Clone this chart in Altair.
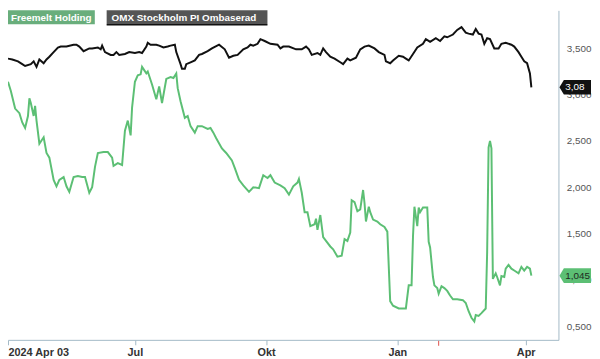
import altair as alt
import pandas as pd

# ---------------- data ----------------
omx_dates = [
    "2024-04-03", "2024-04-06", "2024-04-10", "2024-04-13", "2024-04-15", "2024-04-19", "2024-04-21",
    "2024-04-23", "2024-04-25", "2024-04-28", "2024-04-30", "2024-05-02", "2024-05-05", "2024-05-08",
    "2024-05-10", "2024-05-14", "2024-05-19", "2024-05-21", "2024-05-23", "2024-05-26", "2024-05-30",
    "2024-06-01", "2024-06-05", "2024-06-07", "2024-06-08", "2024-06-10", "2024-06-14", "2024-06-16",
    "2024-06-18", "2024-06-20", "2024-06-24", "2024-06-27", "2024-07-01", "2024-07-04", "2024-07-06",
    "2024-07-09", "2024-07-10", "2024-07-12", "2024-07-16", "2024-07-18", "2024-07-21", "2024-07-24",
    "2024-07-26", "2024-07-29", "2024-07-30", "2024-08-02", "2024-08-03", "2024-08-05", "2024-08-06",
    "2024-08-09", "2024-08-12", "2024-08-15", "2024-08-17", "2024-08-21", "2024-08-24", "2024-08-29",
    "2024-09-02", "2024-09-05", "2024-09-08", "2024-09-11", "2024-09-15", "2024-09-18", "2024-09-20",
    "2024-09-22", "2024-09-25", "2024-09-27", "2024-09-30", "2024-10-04", "2024-10-09", "2024-10-11",
    "2024-10-13", "2024-10-17", "2024-10-22", "2024-10-26", "2024-10-29", "2024-10-31", "2024-11-02",
    "2024-11-06", "2024-11-08", "2024-11-10", "2024-11-12", "2024-11-15", "2024-11-18", "2024-11-22",
    "2024-11-24", "2024-11-27", "2024-11-29", "2024-12-03", "2024-12-06", "2024-12-09", "2024-12-12",
    "2024-12-16", "2024-12-19", "2024-12-23", "2024-12-24", "2024-12-27", "2024-12-29", "2025-01-02",
    "2025-01-05", "2025-01-07", "2025-01-09", "2025-01-12", "2025-01-15", "2025-01-19", "2025-01-21",
    "2025-01-24", "2025-01-28", "2025-01-31", "2025-02-03", "2025-02-05", "2025-02-09", "2025-02-12",
    "2025-02-15", "2025-02-18", "2025-02-20", "2025-02-23", "2025-02-25", "2025-02-27", "2025-03-01",
    "2025-03-03", "2025-03-05", "2025-03-07", "2025-03-10", "2025-03-13", "2025-03-15", "2025-03-18",
    "2025-03-22", "2025-03-24", "2025-03-27", "2025-03-29", "2025-03-31", "2025-04-02", "2025-04-04",
    "2025-04-05",
]
omx_values = [
    3.39, 3.38, 3.36, 3.33, 3.31, 3.33, 3.36,
    3.30, 3.38, 3.34, 3.38, 3.41, 3.46, 3.51,
    3.52, 3.52, 3.54, 3.54, 3.52, 3.47, 3.50,
    3.50, 3.51, 3.49, 3.53, 3.46, 3.43, 3.43,
    3.46, 3.43, 3.44, 3.46, 3.45, 3.46, 3.45,
    3.52, 3.56, 3.54, 3.54, 3.53, 3.51, 3.52,
    3.53, 3.54, 3.46, 3.33, 3.28, 3.28, 3.33,
    3.35, 3.37, 3.43, 3.44, 3.47, 3.50, 3.54,
    3.49, 3.40, 3.42, 3.43, 3.49, 3.51, 3.54,
    3.53, 3.55, 3.60, 3.58, 3.55, 3.54, 3.50,
    3.52, 3.52, 3.49, 3.49, 3.52, 3.49, 3.43,
    3.45, 3.43, 3.50, 3.46, 3.41, 3.39, 3.35,
    3.33, 3.39, 3.37, 3.40, 3.49, 3.52, 3.53,
    3.50, 3.46, 3.43, 3.36, 3.34, 3.37, 3.42,
    3.41, 3.39, 3.37, 3.44, 3.51, 3.55, 3.60,
    3.57, 3.61, 3.58, 3.63, 3.62, 3.65, 3.70,
    3.73, 3.67, 3.66, 3.65, 3.71, 3.66, 3.65,
    3.55, 3.61, 3.60, 3.50, 3.50, 3.55, 3.56,
    3.54, 3.52, 3.46, 3.41, 3.36, 3.34, 3.23,
    3.08,
]

frm_dates = [
    "2024-04-03", "2024-04-05", "2024-04-08", "2024-04-11", "2024-04-13", "2024-04-15", "2024-04-17",
    "2024-04-18", "2024-04-19", "2024-04-21", "2024-04-22", "2024-04-23", "2024-04-25", "2024-04-28",
    "2024-04-30", "2024-05-02", "2024-05-05", "2024-05-07", "2024-05-09", "2024-05-12", "2024-05-14",
    "2024-05-16", "2024-05-19", "2024-05-22", "2024-05-25", "2024-05-27", "2024-05-30", "2024-06-01",
    "2024-06-03", "2024-06-05", "2024-06-09", "2024-06-12", "2024-06-15", "2024-06-16", "2024-06-19",
    "2024-06-22", "2024-06-24", "2024-06-26", "2024-06-28", "2024-06-29", "2024-07-01", "2024-07-03",
    "2024-07-05", "2024-07-06", "2024-07-09", "2024-07-10", "2024-07-13", "2024-07-16", "2024-07-18",
    "2024-07-20", "2024-07-23", "2024-07-26", "2024-07-28", "2024-07-30", "2024-07-31", "2024-08-02",
    "2024-08-05", "2024-08-07", "2024-08-09", "2024-08-12", "2024-08-14", "2024-08-17", "2024-08-21",
    "2024-08-23", "2024-08-25", "2024-08-27", "2024-08-31", "2024-09-03", "2024-09-07", "2024-09-09",
    "2024-09-12", "2024-09-15", "2024-09-19", "2024-09-22", "2024-09-26", "2024-09-29", "2024-10-02",
    "2024-10-04", "2024-10-07", "2024-10-11", "2024-10-14", "2024-10-17", "2024-10-20", "2024-10-23",
    "2024-10-24", "2024-10-26", "2024-10-28", "2024-10-30", "2024-11-01", "2024-11-04", "2024-11-05",
    "2024-11-06", "2024-11-08", "2024-11-10", "2024-11-12", "2024-11-15", "2024-11-17", "2024-11-20",
    "2024-11-23", "2024-11-25", "2024-11-27", "2024-11-29", "2024-11-30", "2024-12-02", "2024-12-04",
    "2024-12-06", "2024-12-08", "2024-12-09", "2024-12-10", "2024-12-12", "2024-12-13", "2024-12-15",
    "2024-12-18", "2024-12-20", "2024-12-23", "2024-12-25", "2024-12-27", "2024-12-29", "2025-01-02",
    "2025-01-05", "2025-01-07", "2025-01-09", "2025-01-11", "2025-01-12", "2025-01-13", "2025-01-15",
    "2025-01-16", "2025-01-17", "2025-01-19", "2025-01-22", "2025-01-23", "2025-01-24", "2025-01-26",
    "2025-01-27", "2025-01-29", "2025-01-30", "2025-02-01", "2025-02-03", "2025-02-05", "2025-02-07",
    "2025-02-09", "2025-02-12", "2025-02-16", "2025-02-18", "2025-02-20", "2025-02-22", "2025-02-24",
    "2025-02-25", "2025-02-27", "2025-03-01", "2025-03-04", "2025-03-05", "2025-03-06", "2025-03-07",
    "2025-03-08", "2025-03-09", "2025-03-11", "2025-03-12", "2025-03-14", "2025-03-15", "2025-03-17",
    "2025-03-18", "2025-03-20", "2025-03-22", "2025-03-24", "2025-03-27", "2025-03-29", "2025-03-31",
    "2025-04-02", "2025-04-04", "2025-04-05",
]
frm_values = [
    3.14, 3.04, 2.85, 2.80, 2.70, 2.64, 2.77,
    2.96, 2.91, 2.77, 2.88, 2.72, 2.47, 2.54,
    2.37, 2.32, 2.08, 2.01, 2.08, 2.11, 2.01,
    1.95, 2.11, 2.12, 2.11, 2.11, 1.94, 2.00,
    2.22, 2.37, 2.38, 2.38, 2.32, 2.23, 2.26,
    2.24, 2.61, 2.72, 2.56, 2.86, 3.14, 3.21,
    3.22, 3.30, 3.23, 3.25, 3.11, 2.95, 3.09,
    2.91, 3.17, 3.19, 3.18, 3.23, 3.07, 2.93,
    2.75, 2.77, 2.66, 2.59, 2.66, 2.66, 2.63,
    2.64, 2.59, 2.53, 2.42, 2.37, 2.29, 2.21,
    2.08, 2.02, 1.95, 2.00, 1.99, 2.13, 2.10,
    2.13, 2.05, 2.02, 1.99, 1.92, 2.01, 2.05,
    2.09, 1.94, 1.73, 1.73, 1.58, 1.60, 1.66,
    1.54, 1.70, 1.46, 1.42, 1.36, 1.33, 1.25,
    1.26, 1.44, 1.42, 1.51, 1.86, 1.84, 1.74,
    1.76, 1.97, 1.83, 1.63, 1.79, 1.73, 1.65,
    1.63, 1.60, 1.57, 1.52, 0.77, 0.72, 0.69,
    0.69, 0.69, 0.94, 0.94, 1.47, 1.79, 1.58,
    1.78, 1.73, 1.78, 1.78, 1.41, 1.35, 1.03,
    0.94, 0.91, 0.85, 0.93, 0.91, 0.88, 0.83,
    0.79, 0.79, 0.78, 0.75, 0.66, 0.59, 0.55,
    0.62, 0.61, 0.64, 0.69, 1.30, 2.43, 2.50,
    2.42, 1.01, 1.07, 1.03, 0.94, 1.04, 1.03,
    1.12, 1.16, 1.12, 1.10, 1.07, 1.14, 1.10,
    1.14, 1.12, 1.045,
]

series_names = ["Freemelt Holding", "OMX Stockholm PI Ombaserad"]
series_colors = ["#5cbf74", "#111111"]
last_labels = ["1,045", "3,08"]
badge_text_colors = ["#1e2a22", "#ffffff"]
legend_bg = ["#69ae7c", "#555555"]

y_ticks = [0.5, 1.0, 1.5, 2.0, 2.5, 3.0, 3.5]
y_domain = [0.351, 3.911]
x_domain = ["2024-04-03", "2025-04-24"]
x_tick_dates = ["2024-04-03", "2024-07-01", "2024-10-01", "2025-01-01", "2025-04-01"]
x_tick_labels = ["2024 Apr 03", "Jul", "Okt", "Jan", "Apr"]
marker_dates = ["2025-01-30"]

# ---------------- build ----------------
W, H = 558, 334
FONT = "Liberation Sans"
AXIS_COLOR = "#a3b9c6"

df = pd.concat([
    pd.DataFrame({"date": frm_dates, "value": frm_values, "series": series_names[0]}),
    pd.DataFrame({"date": omx_dates, "value": omx_values, "series": series_names[1]}),
], ignore_index=True)

last_df = pd.DataFrame({
    "date": [frm_dates[-1], omx_dates[-1]],
    "value": [frm_values[-1], omx_values[-1]],
    "series": series_names,
    "label": last_labels,
    "tcolor": badge_text_colors,
})


def dt(s):
    y, m, d = (int(p) for p in s.split("-"))
    return alt.DateTime(year=y, month=m, date=d)


label_expr = ""
for s, lab in zip(x_tick_dates, x_tick_labels):
    y, m, d = (int(p) for p in s.split("-"))
    label_expr += f"(year(datum.value)=={y} && month(datum.value)=={m-1} && date(datum.value)=={d}) ? '{lab}' : "
label_expr += "''"

x_enc = alt.X(
    "date:T",
    scale=alt.Scale(domain=[dt(x_domain[0]), dt(x_domain[1])]),
    axis=alt.Axis(
        values=[dt(s) for s in x_tick_dates],
        labelExpr=label_expr,
        title=None,
        grid=False,
        tickSize=5,
        tickColor=AXIS_COLOR,
        domainColor=AXIS_COLOR,
        labelFont=FONT,
        labelFontWeight="bold",
        labelFontSize=11,
        labelColor="#333333",
        labelFlush=6,
        labelPadding=2,
    ),
)
y_enc = alt.Y(
    "value:Q",
    scale=alt.Scale(domain=y_domain, nice=False, zero=False),
    axis=alt.Axis(
        orient="right",
        values=y_ticks,
        labelExpr="replace(format(datum.value, '.3f'), '.', ',')",
        title=None,
        grid=False,
        ticks=False,
        domainColor=AXIS_COLOR,
        labelFont=FONT,
        labelFontSize=10,
        labelColor="#555555",
        labelPadding=8,
    ),
)
color_enc = alt.Color(
    "series:N",
    scale=alt.Scale(domain=series_names, range=series_colors),
    legend=None,
)

lines = alt.Chart(df).mark_line(strokeWidth=2).encode(
    x=x_enc, y=y_enc, color=color_enc, order="date:T"
)

marker = alt.Chart(pd.DataFrame({"date": marker_dates})).mark_rule(
    color="#e0504a", strokeWidth=1
).encode(x="date:T", y=alt.value(H + 1), y2=alt.value(H + 6))

tag_path = "M-1,0 L-0.72,-0.46 L1,-0.46 L1,0.46 L-0.72,0.46 Z"
badges = alt.Chart(last_df).mark_point(
    shape=tag_path, filled=True, opacity=1, size=1024, strokeWidth=0
).encode(
    x=alt.value(W + 17), y="value:Q", color=color_enc
)
badge_text = alt.Chart(last_df).mark_text(
    align="left", baseline="middle", font=FONT, fontSize=10, dx=0
).encode(
    x=alt.value(W + 7), y="value:Q", text="label:N",
    color=alt.Color("tcolor:N", scale=None),
)

leg_df0 = pd.DataFrame({"name": [series_names[0]]})
leg_df1 = pd.DataFrame({"name": [series_names[1]]})
leg_box0 = alt.Chart(leg_df0).mark_rect(color=legend_bg[0]).encode(
    x=alt.value(0), x2=alt.value(88), y=alt.value(0), y2=alt.value(14)
)
leg_box1 = alt.Chart(leg_df1).mark_rect(color=legend_bg[1]).encode(
    x=alt.value(100), x2=alt.value(263), y=alt.value(0), y2=alt.value(14)
)
leg_line1 = alt.Chart(leg_df1).mark_rule(color="#111111", strokeWidth=1.5).encode(
    x=alt.value(100), x2=alt.value(263), y=alt.value(14.5)
)
leg_txt0 = alt.Chart(leg_df0).mark_text(
    align="left", baseline="middle", font=FONT, fontSize=10, fontWeight="bold", color="#ffffff"
).encode(x=alt.value(3), y=alt.value(7.5), text="name:N")
leg_txt1 = alt.Chart(leg_df1).mark_text(
    align="left", baseline="middle", font=FONT, fontSize=10, fontWeight="bold", color="#ffffff"
).encode(x=alt.value(105), y=alt.value(7.5), text="name:N")

chart = alt.layer(
    lines, marker, badges, badge_text,
    leg_box0, leg_box1, leg_line1, leg_txt0, leg_txt1,
).properties(
    width=W, height=H,
    autosize=alt.AutoSizeParams(type="none"),
    padding={"left": 0, "top": 0, "right": 34, "bottom": 17},
    background="#ffffff",
).configure_view(stroke=None)

chart.save("out.html", embed_options={"renderer": "svg", "actions": False})
